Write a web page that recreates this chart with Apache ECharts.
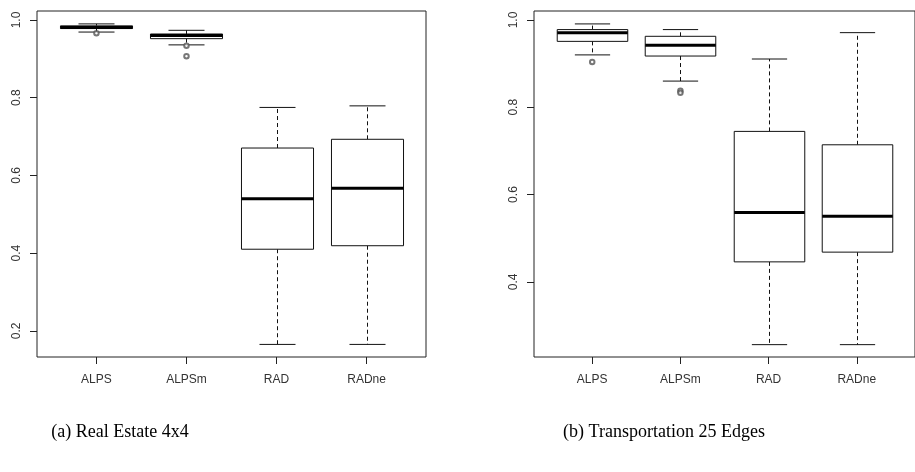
<!DOCTYPE html>
<html>
<head>
<meta charset="utf-8">
<script src="https://cdn.jsdelivr.net/npm/echarts@6/dist/echarts.min.js"></script>
<style>
html,body{margin:0;padding:0;background:#fff;}
#chart{width:915px;height:472px;}
</style>
</head>
<body>
<div id="chart"></div>
<script>
// ---- data ----
const categories = ['ALPS', 'ALPSm', 'RAD', 'RADne'];
// each row: [lower whisker, Q1, median, Q3, upper whisker]
const realEstateBoxes = [
  [0.969, 0.978, 0.981, 0.985, 0.990],
  [0.936, 0.952, 0.960, 0.964, 0.9735],
  [0.165, 0.410, 0.540, 0.6705, 0.775],
  [0.165, 0.419, 0.567, 0.693, 0.779]
];
const realEstateOutliers = [[0.966], [0.934, 0.907], [], []];
const transportBoxes = [
  [0.920, 0.951, 0.971, 0.978, 0.991],
  [0.860, 0.9174, 0.942, 0.9626, 0.978],
  [0.256, 0.4457, 0.559, 0.7447, 0.9106],
  [0.256, 0.468, 0.550, 0.714, 0.971]
];
const transportOutliers = [[0.904], [0.838, 0.833], [], []];
const realEstateTicks = [0.2, 0.4, 0.6, 0.8, 1.0];
const transportTicks = [0.4, 0.6, 0.8, 1.0];
const captions = ['(a) Real Estate 4x4', '(b) Transportation 25 Edges'];

// ---- build ----
const chart = echarts.init(document.getElementById('chart'), null, {renderer: 'canvas'});
const labelFont = {fontFamily: 'Liberation Sans, Arial, sans-serif', fontSize: 12, color: '#333'};

function boxData(boxes) {
  return boxes.map((b, i) => [i + 1].concat(b));
}
function outlierData(outs) {
  const res = [];
  outs.forEach((arr, i) => arr.forEach(v => res.push([i + 1, v])));
  return res;
}
function renderBox(params, api) {
  const x = api.value(0);
  const low = api.coord([x, api.value(1)]);
  const q1 = api.coord([x, api.value(2)]);
  const med = api.coord([x, api.value(3)]);
  const q3 = api.coord([x, api.value(4)]);
  const high = api.coord([x, api.value(5)]);
  const hb = api.size([0.4, 0])[0];
  const hs = api.size([0.2, 0])[0];
  const cx = Math.round(low[0]) + 0.5;
  const stroke = '#111';
  const dashed = {stroke: stroke, lineWidth: 1, lineDash: [4, 3]};
  const solid = {stroke: stroke, lineWidth: 1};
  return {
    type: 'group',
    children: [
      {type: 'line', shape: {x1: cx, y1: q3[1], x2: cx, y2: high[1]}, style: dashed},
      {type: 'line', shape: {x1: cx, y1: q1[1], x2: cx, y2: low[1]}, style: dashed},
      {type: 'line', shape: {x1: cx - hs, y1: high[1], x2: cx + hs, y2: high[1]}, style: solid},
      {type: 'line', shape: {x1: cx - hs, y1: low[1], x2: cx + hs, y2: low[1]}, style: solid},
      {type: 'rect', shape: {x: cx - hb, y: q3[1], width: 2 * hb, height: q1[1] - q3[1]},
        style: {fill: '#fff', stroke: stroke, lineWidth: 1}},
      {type: 'line', shape: {x1: cx - hb, y1: med[1], x2: cx + hb, y2: med[1]},
        style: {stroke: '#000', lineWidth: 3}}
    ]
  };
}
function xAxis(gridIndex) {
  return {
    type: 'value', gridIndex: gridIndex, min: 0.34, max: 4.66,
    axisLine: {show: false},
    splitLine: {show: false},
    axisTick: {show: true, length: 7, lineStyle: {color: '#222'}, customValues: [1, 2, 3, 4]},
    axisLabel: Object.assign({margin: 17, customValues: [1, 2, 3, 4],
      formatter: v => categories[Math.round(v) - 1]}, labelFont)
  };
}
function yAxis(gridIndex, min, max, ticks) {
  return {
    type: 'value', gridIndex: gridIndex, min: min, max: max,
    axisLine: {show: false},
    splitLine: {show: false},
    axisTick: {show: true, length: 7, lineStyle: {color: '#222'}, customValues: ticks},
    axisLabel: Object.assign({margin: 14, rotate: 90, customValues: ticks,
      formatter: v => v.toFixed(1)}, labelFont)
  };
}

const option = {
  animation: false,
  backgroundColor: '#fff',
  grid: [
    {left: 37, top: 11, width: 389, height: 346, show: true, borderColor: '#222', borderWidth: 1, backgroundColor: 'transparent'},
    {left: 534, top: 11, width: 390, height: 346, show: true, borderColor: '#222', borderWidth: 1, backgroundColor: 'transparent'}
  ],
  xAxis: [xAxis(0), xAxis(1)],
  yAxis: [
    yAxis(0, 0.1326, 1.0232, realEstateTicks),
    yAxis(1, 0.2277, 1.0206, transportTicks)
  ],
  series: [
    {type: 'custom', xAxisIndex: 0, yAxisIndex: 0, renderItem: renderBox, data: boxData(realEstateBoxes), encode: {x: 0, y: [1, 2, 3, 4, 5]}},
    {type: 'custom', xAxisIndex: 1, yAxisIndex: 1, renderItem: renderBox, data: boxData(transportBoxes), encode: {x: 0, y: [1, 2, 3, 4, 5]}},
    {type: 'scatter', xAxisIndex: 0, yAxisIndex: 0, data: outlierData(realEstateOutliers), symbol: 'emptyCircle', symbolSize: 4.5,
      itemStyle: {color: '#555', borderWidth: 0.9}},
    {type: 'scatter', xAxisIndex: 1, yAxisIndex: 1, data: outlierData(transportOutliers), symbol: 'emptyCircle', symbolSize: 4.5,
      itemStyle: {color: '#555', borderWidth: 0.9}}
  ],
  graphic: [
    {type: 'text', x: 120, y: 423, style: {text: captions[0], font: '18px "Liberation Serif", serif', fill: '#000', textAlign: 'center'}},
    {type: 'text', x: 664, y: 423, style: {text: captions[1], font: '18px "Liberation Serif", serif', fill: '#000', textAlign: 'center'}}
  ]
};
chart.setOption(option);
</script>
</body>
</html>
